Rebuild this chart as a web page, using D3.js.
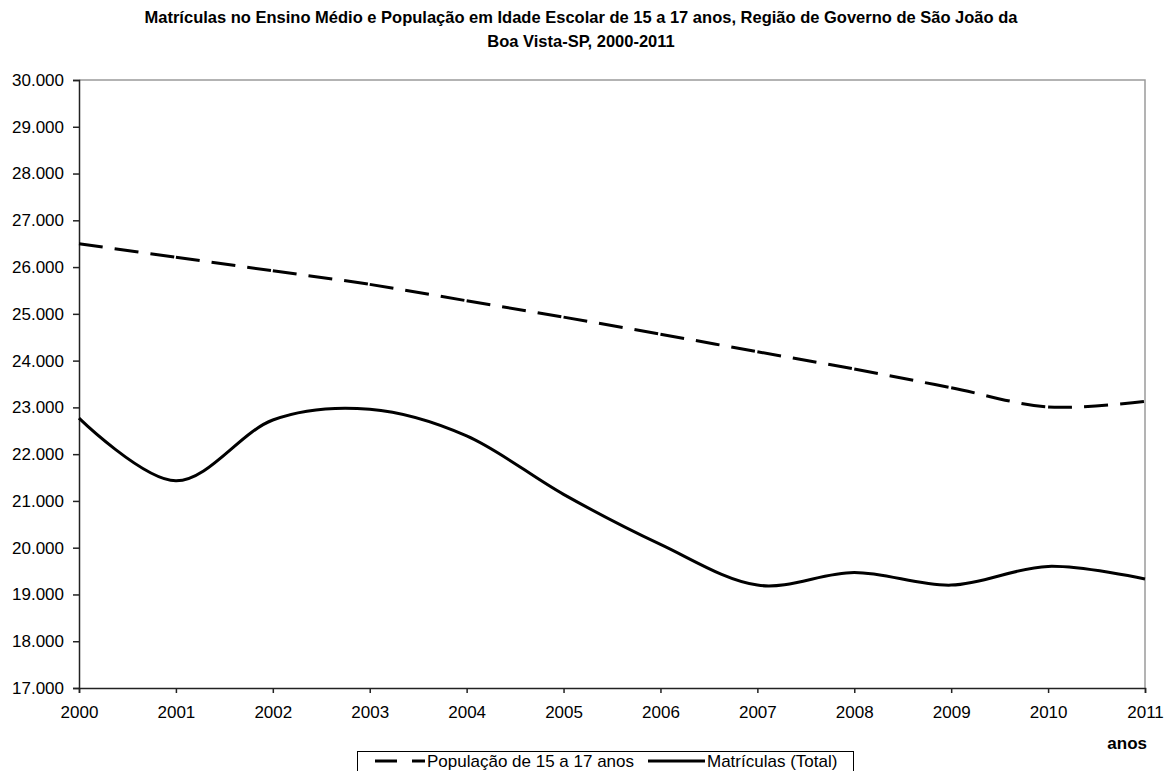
<!DOCTYPE html>
<html>
<head>
<meta charset="utf-8">
<script src="https://cdn.jsdelivr.net/npm/d3@7"></script>
<style>
  html, body { margin: 0; padding: 0; background: #fff; }
  svg { display: block; font-family: "Liberation Sans", Arial, sans-serif; }
</style>
</head>
<body>
<svg id="chart" width="1164" height="771"></svg>
<script>
const titleLines = [
  "Matrículas no Ensino Médio e População em Idade Escolar de 15 a 17 anos, Região de Governo de São João da",
  "Boa Vista-SP, 2000-2011"
];
const years = [2000, 2001, 2002, 2003, 2004, 2005, 2006, 2007, 2008, 2009, 2010, 2011];
const populacao = [26500, 26210, 25920, 25630, 25280, 24930, 24565, 24190, 23820, 23420, 23010, 23130];
const matriculas = [22770, 21430, 22730, 22960, 22390, 21140, 20070, 19200, 19470, 19200, 19600, 19330];
const yTicks = [17000, 18000, 19000, 20000, 21000, 22000, 23000, 24000, 25000, 26000, 27000, 28000, 29000, 30000];
const seriesNames = ["População de 15 a 17 anos", "Matrículas (Total)"];
const xAxisTitle = "anos";

(function () {
const svg = d3.select("#chart");
const pLeft = 79, pRight = 1145, pTop = 80, pBottom = 688;

const x = d3.scaleLinear().domain([2000, 2011]).range([pLeft, pRight]);
const y = d3.scaleLinear().domain([17000, 30000]).range([pBottom, pTop]);

const fmt = v => d3.format(",")(v).replace(/,/g, ".");

// title
svg.append("g").selectAll("text").data(titleLines).join("text")
  .attr("x", 581).attr("y", (d, i) => 23 + i * 24)
  .attr("text-anchor", "middle")
  .attr("font-size", 16.5).attr("font-weight", "bold")
  .attr("fill", "#000")
  .text(d => d);

// plot frame top/right (gray)
svg.append("path")
  .attr("d", `M${pLeft},${pTop}H${pRight}V${pBottom}`)
  .attr("fill", "none").attr("stroke", "#9a9a9a").attr("stroke-width", 1.5);

// y axis
const yAxis = svg.append("g").attr("transform", `translate(${pLeft},0)`)
  .call(d3.axisLeft(y).tickValues(yTicks).tickFormat(fmt).tickSize(6).tickPadding(9));
yAxis.select(".domain").attr("stroke", "#222").attr("stroke-width", 1.5);
yAxis.selectAll(".tick line").attr("stroke", "#222").attr("stroke-width", 1.5);
yAxis.selectAll(".tick text").attr("font-size", 17).attr("fill", "#000")
  .attr("font-family", "Liberation Sans, Arial, sans-serif");

// x axis
const xAxis = svg.append("g").attr("transform", `translate(0,${pBottom})`)
  .call(d3.axisBottom(x).tickValues(years).tickFormat(d3.format("d")).tickSize(5).tickPadding(13));
xAxis.select(".domain").attr("stroke", "#222").attr("stroke-width", 1.5);
xAxis.selectAll(".tick line").attr("stroke", "#222").attr("stroke-width", 1.5);
xAxis.selectAll(".tick text").attr("font-size", 17).attr("fill", "#000")
  .attr("font-family", "Liberation Sans, Arial, sans-serif");

// axis title
svg.append("text").attr("x", 1147).attr("y", 749).attr("text-anchor", "end")
  .attr("font-size", 17).attr("font-weight", "bold").text(xAxisTitle);

// split smoothed curve into per-segment paths (dash pattern restarts each segment)
function segmentPaths(values) {
  const segs = [];
  let cx = 0, cy = 0;
  const ctx = {
    moveTo(a, b) { cx = a; cy = b; },
    lineTo(a, b) { segs.push(`M${cx},${cy}L${a},${b}`); cx = a; cy = b; },
    bezierCurveTo(a, b, c, d, e, f) { segs.push(`M${cx},${cy}C${a},${b},${c},${d},${e},${f}`); cx = e; cy = f; },
    closePath() {}
  };
  d3.line().x((d, i) => x(years[i])).y(d => y(d))
    .curve(d3.curveCardinal.tension(0)).context(ctx)(values);
  return segs;
}

const lineGen = d3.line().x((d, i) => x(years[i])).y(d => y(d)).curve(d3.curveCardinal.tension(0));

// population dashed
svg.append("g").selectAll("path").data(segmentPaths(populacao)).join("path")
  .attr("d", d => d).attr("fill", "none").attr("stroke", "#000")
  .attr("stroke-width", 3).attr("stroke-dasharray", "24,12");

// matriculas solid
svg.append("path").datum(matriculas).attr("d", lineGen)
  .attr("fill", "none").attr("stroke", "#000").attr("stroke-width", 3);

// legend
const lg = svg.append("g");
lg.append("rect").attr("x", 357.5).attr("y", 751.5).attr("width", 496).attr("height", 30)
  .attr("fill", "#fff").attr("stroke", "#000").attr("stroke-width", 1);
lg.append("path").attr("d", "M375,761H425").attr("stroke", "#000").attr("stroke-width", 3)
  .attr("stroke-dasharray", "22,15,13,100");
lg.append("text").attr("x", 427).attr("y", 767).attr("font-size", 17).text(seriesNames[0]);
lg.append("path").attr("d", "M648,761H705").attr("stroke", "#000").attr("stroke-width", 3);
lg.append("text").attr("x", 707).attr("y", 767).attr("font-size", 17).text(seriesNames[1]);
})();
</script>
</body>
</html>
